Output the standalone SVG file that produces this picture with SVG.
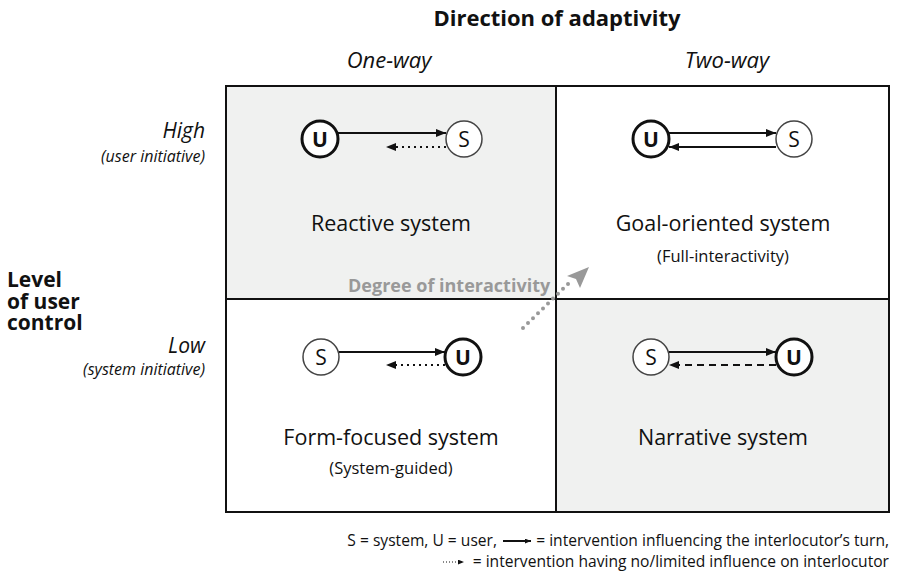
<svg xmlns="http://www.w3.org/2000/svg" width="899" height="578" viewBox="0 0 899 578">
<style>
text{font-family:"Open Sans","Noto Sans","Liberation Sans",sans-serif;fill:#111}
.h{font-size:22px;font-weight:bold;text-anchor:middle}
.it{font-style:italic;font-size:22px;text-anchor:middle}
.itr{font-style:italic;font-size:21px;text-anchor:end}
.its{font-style:italic;font-size:16px;text-anchor:end}
.lbl{font-size:21.5px;text-anchor:middle}
.sub{font-size:16.5px;text-anchor:middle}
.lv{font-size:21px;font-weight:bold}
.fn{font-size:15.6px}
.grid{fill:none;stroke:#111;stroke-width:2}
.gray{fill:#f0f1f0}
.cu{fill:#fff;stroke:#111;stroke-width:3}
.cs{fill:#fff;stroke:#444;stroke-width:1.5}
.ut{font-size:21px;font-weight:bold;text-anchor:middle}
.st{font-size:21px;text-anchor:middle}
.sol{stroke:#111;stroke-width:2;fill:none}
.dot{stroke:#111;stroke-width:2;fill:none;stroke-dasharray:2 4}
.dash{stroke:#111;stroke-width:2;fill:none;stroke-dasharray:7 5}
</style>
<defs>
<marker id="ah" viewBox="0 0 10 8" refX="10" refY="4" markerWidth="10" markerHeight="8" markerUnits="userSpaceOnUse" orient="auto">
<path d="M0,0 L10,4 L0,8 Z" fill="#111"/>
</marker>
<marker id="ahs" viewBox="0 0 10 8" refX="10" refY="4" markerWidth="6" markerHeight="5" markerUnits="userSpaceOnUse" orient="auto">
<path d="M0,0 L10,4 L0,8 Z" fill="#111"/>
</marker>
</defs>

<g id="grid">
<rect class="gray" x="226" y="86" width="330" height="213"/>
<rect class="gray" x="556" y="299" width="333" height="213"/>
<rect class="grid" x="226" y="86" width="663" height="426"/>
<line class="grid" x1="556" y1="86" x2="556" y2="512"/>
<line class="grid" x1="226" y1="299" x2="889" y2="299"/>
</g>

<g id="headers">
<text class="h" x="557" y="26">Direction of adaptivity</text>
<text class="it" x="389" y="68">One-way</text>
<text class="it" x="727" y="68">Two-way</text>
<text class="itr" x="205" y="138">High</text>
<text class="its" x="205" y="162">(user initiative)</text>
<text class="lv" x="7" y="287">Level</text>
<text class="lv" x="7" y="308.5">of user</text>
<text class="lv" x="7" y="330">control</text>
<text class="itr" x="205" y="353">Low</text>
<text class="its" x="205" y="375">(system initiative)</text>
</g>

<g id="connectors">
<line class="sol" x1="338" y1="133" x2="446" y2="133" marker-end="url(#ah)"/>
<line class="dot" x1="446" y1="147" x2="386" y2="147" marker-end="url(#ah)"/>
<line class="sol" x1="669" y1="133" x2="776" y2="133" marker-end="url(#ah)"/>
<line class="sol" x1="776" y1="147" x2="669" y2="147" marker-end="url(#ah)"/>
<line class="sol" x1="339" y1="352" x2="445" y2="352" marker-end="url(#ah)"/>
<line class="dot" x1="445" y1="365" x2="386" y2="365" marker-end="url(#ah)"/>
<line class="sol" x1="669" y1="352" x2="776" y2="352" marker-end="url(#ah)"/>
<line class="dash" x1="776" y1="365" x2="669" y2="365" marker-end="url(#ah)"/>
</g>

<g id="reactive">
<circle class="cu" cx="320" cy="139" r="18"/><text class="ut" x="320" y="147">U</text>
<circle class="cs" cx="464" cy="139" r="18"/><text class="st" x="464" y="147">S</text>
<text class="lbl" x="391" y="231">Reactive system</text>
</g>
<g id="goal">
<circle class="cu" cx="651" cy="139" r="18"/><text class="ut" x="651" y="147">U</text>
<circle class="cs" cx="794" cy="139" r="18"/><text class="st" x="794" y="147">S</text>
<text class="lbl" x="723" y="231">Goal-oriented system</text>
<text class="sub" x="723" y="262">(Full-interactivity)</text>
</g>
<g id="form">
<circle class="cs" cx="321" cy="357" r="18"/><text class="st" x="321" y="365">S</text>
<circle class="cu" cx="463" cy="357" r="18"/><text class="ut" x="463" y="365">U</text>
<text class="lbl" x="391" y="445">Form-focused system</text>
<text class="sub" x="391" y="474">(System-guided)</text>
</g>
<g id="narrative">
<circle class="cs" cx="651" cy="357" r="18"/><text class="st" x="651" y="365">S</text>
<circle class="cu" cx="794" cy="357" r="18"/><text class="ut" x="794" y="365">U</text>
<text class="lbl" x="723" y="445">Narrative system</text>
</g>

<g id="interactivity">
<line x1="523" y1="328" x2="572" y2="280" stroke="#999" stroke-width="4" stroke-linecap="round" stroke-dasharray="0 7"/>
<path d="M589,267 L567,276 L576,279 L580,288 Z" fill="#999"/>
<text x="348" y="292" style="font-size:18px;font-weight:bold;fill:#999">Degree of interactivity</text>
</g>

<g id="legend">
<text class="fn" x="497" y="546" text-anchor="end">S = system, U = user,</text>
<line class="sol" x1="503" y1="541" x2="531" y2="541" stroke-width="1" marker-end="url(#ahs)"/>
<text class="fn" x="889" y="546" text-anchor="end">= intervention influencing the interlocutor’s turn,</text>
<line x1="443" y1="562" x2="464" y2="562" stroke="#111" stroke-width="1" stroke-dasharray="1 2" marker-end="url(#ahs)"/>
<text class="fn" x="889" y="567" text-anchor="end">= intervention having no/limited influence on interlocutor</text>
</g>
</svg>
